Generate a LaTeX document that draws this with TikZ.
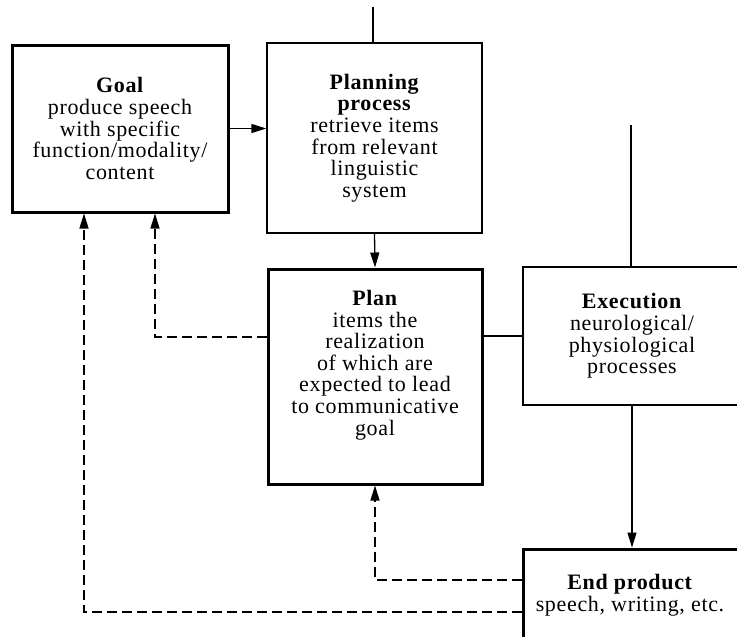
\documentclass[tikz,border=0pt]{standalone}
\usepackage{fontspec}
\setmainfont{Liberation Serif}[LetterSpace=3.0]
\usetikzlibrary{arrows.meta}

\begin{document}
\begin{tikzpicture}[x=1pt,y=-1pt,
  every node/.style={font=\fontsize{22}{21.6}\selectfont, align=center, inner sep=0pt},
  box/.style={draw, line width=1.3pt},
  boldbox/.style={draw, line width=3pt},
  link/.style={line width=1.3pt},
  arr/.style={link, -{Triangle[length=15pt,width=9pt]}},
  back/.style={arr, dash pattern=on 10pt off 5pt},
]
\useasboundingbox (0,0) rectangle (737,637);
\fill[white] (0,0) rectangle (737,637);
\clip (0,0) rectangle (737,637);

% boxes
\node[boldbox, minimum width=216pt, minimum height=167pt] (goal) at (120,128.5)
  {\textbf{Goal}\\produce speech\\with specific\\function/modality/\\content};
\node[box, minimum width=215pt, minimum height=190pt] (plng) at (374.5,138)
  {\textbf{Planning}\\\textbf{process}\\retrieve items\\from relevant\\linguistic\\system};
\node[boldbox, minimum width=214pt, minimum height=215pt] (plan) at (375,376.5) {};
\node (plantxt) at (375,365)
  {\textbf{Plan}\\items the\\realization\\of which are\\expected to lead\\to communicative\\goal};
\node[box, minimum width=218pt, minimum height=138pt] (exec) at (632,336)
  {\textbf{Execution}\\neurological/\\physiological\\processes};
\node[boldbox, minimum width=218pt, minimum height=111pt] (endp) at (632,604.5) {};
\node (endtxt) at (630,595) {\textbf{End product}\\speech, writing, etc.};

% incoming lines from above
\coordinate (ptop) at (373,7);
\coordinate (etop) at (631,125);
\draw[link] (ptop) -- (ptop |- plng.north);
\draw[link] (etop) -- (etop |- exec.north);

% forward connections
\draw[arr] (goal.east) -- (goal.east -| plng.west);
\draw[arr] (plng.south) -- (plan.north);
\draw[link] (exec.west) -- (exec.west -| plan.east);
\draw[arr] (exec.south) -- (exec.south |- endp.north);

% feedback loops
\coordinate (gl) at ([xshift=-36pt]goal.south);
\coordinate (gr) at ([xshift=35pt]goal.south);
\draw[back] (plan.west |- 0,337) -| (gr);
\draw[back] (endp.west |- 0,580) -| (plan.south);
\draw[back] (endp.west |- 0,612) -| (gl);
\end{tikzpicture}
\end{document}
